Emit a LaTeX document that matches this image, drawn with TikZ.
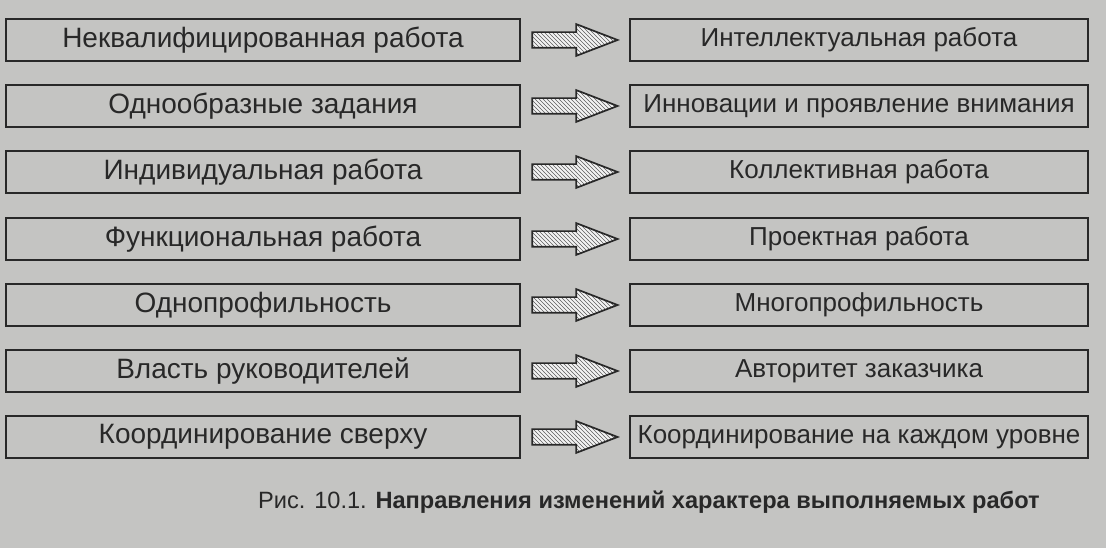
\documentclass[tikz,border=0pt]{standalone}
\usepackage{fontspec}
\setmainfont{Liberation Sans}
\usetikzlibrary{patterns,shapes.arrows,calc}
\definecolor{paper}{RGB}{196,196,194}
\definecolor{ink}{RGB}{40,40,40}
\tikzset{
  lbox/.style={draw=ink, line width=2pt, minimum width=385.5pt, minimum height=31.5pt,
               inner sep=0pt, font=\fontsize{21}{24}\selectfont, text=ink},
  rbox/.style={draw=ink, line width=2pt, minimum width=343.5pt, minimum height=31.5pt,
               inner sep=0pt, font=\fontsize{19.5}{23}\selectfont, text=ink},
  harrow/.style={single arrow, draw=ink, line width=1.3pt, minimum height=64pt,
                 single arrow head extend=6pt, single arrow tip angle=42,
                 inner xsep=0pt, inner ysep=5.25pt,
                 preaction={fill=white!80!paper}, pattern=north west lines, pattern color=ink!75},
}
\begin{document}
\begin{tikzpicture}[x=0.75pt,y=-0.75pt]
\fill[paper] (0,0) rectangle (1106,548);
\useasboundingbox (0,0) rectangle (1106,548);
\foreach \i/\lt/\rt [count=\k] in {
  40/{Неквалифицированная работа}/{Интеллектуальная работа},
  106/{Однообразные задания}/{Инновации и проявление внимания},
  172/{Индивидуальная работа}/{Коллективная работа},
  239/{Функциональная работа}/{Проектная работа},
  305/{Однопрофильность}/{Многопрофильность},
  371/{Власть руководителей}/{Авторитет заказчика},
  437/{Координирование сверху}/{Координирование на каждом уровне}}{
  \node[lbox] (l\k) at (263,\i) {\lt};
  \node[rbox] (r\k) at (859,\i) {\rt};
  \node[harrow, anchor=west] (a\k) at ($(l\k.east)+(10,0)$) {};
}
\node[font=\fontsize{17.7}{21}\selectfont, text=ink] (cap) at (649,502)
  {Рис. 10.1. \textbf{Направления изменений характера выполняемых работ}};
\end{tikzpicture}
\end{document}
